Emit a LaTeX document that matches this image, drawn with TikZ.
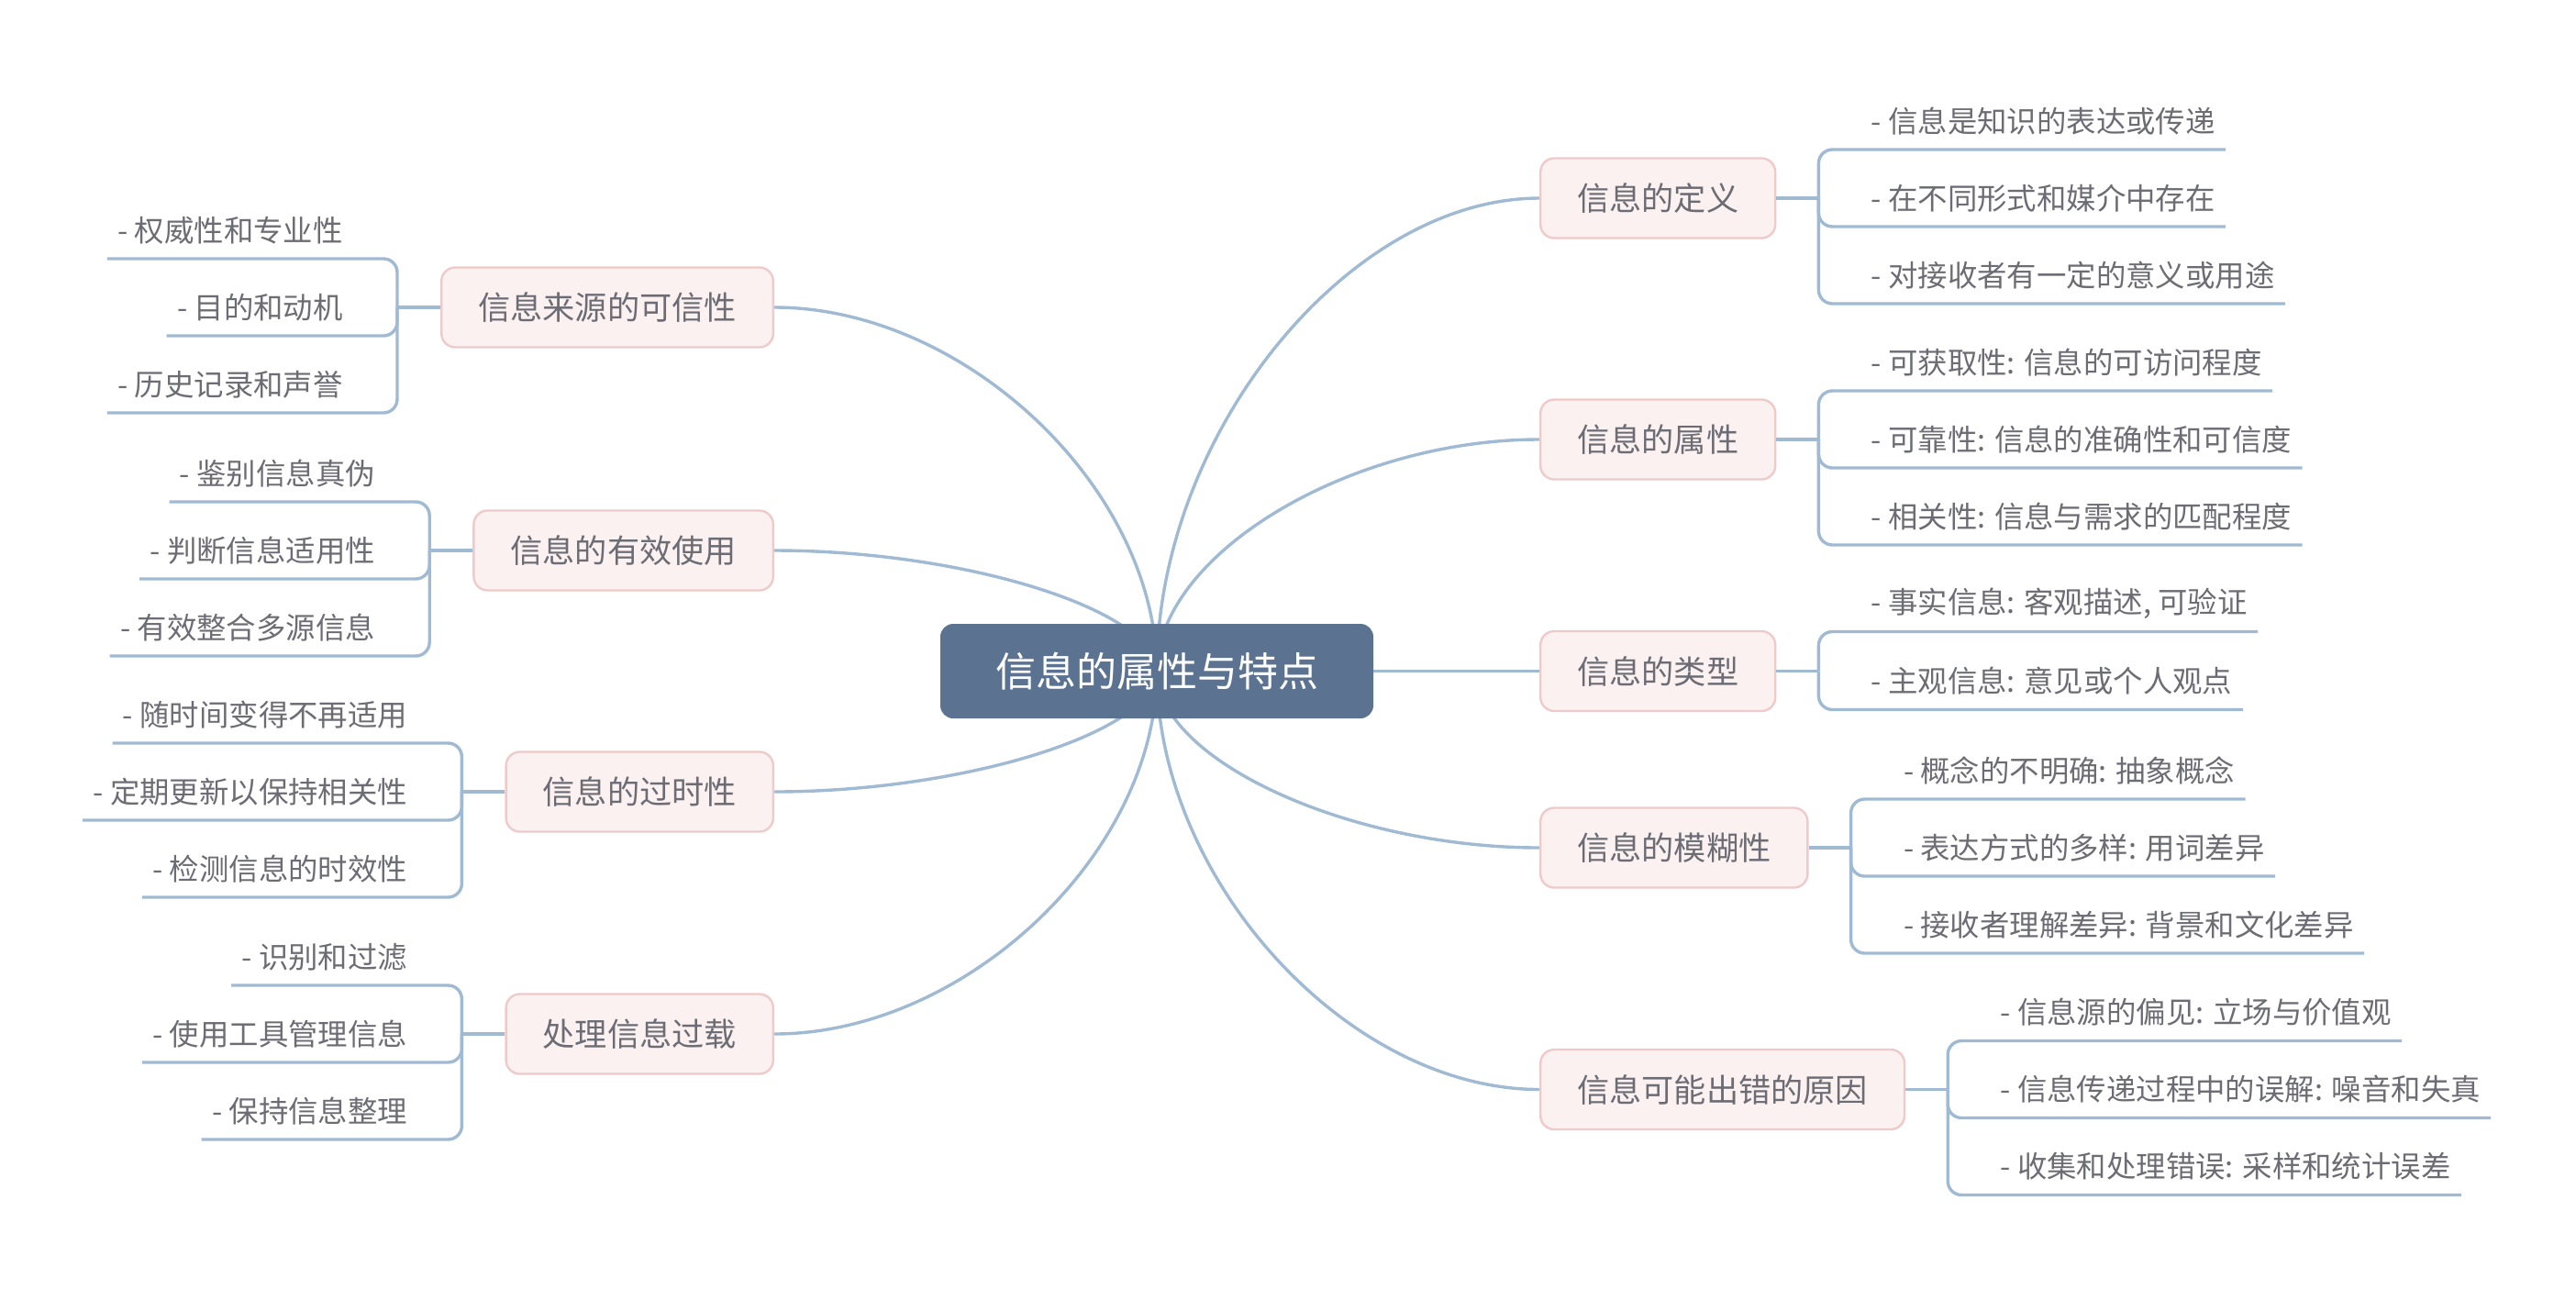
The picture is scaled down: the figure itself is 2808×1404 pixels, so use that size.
\documentclass[tikz,border=0pt]{standalone}
\usepackage{fontspec}
\newfontfamily\cjk{Noto Sans CJK SC}
\usetikzlibrary{calc,backgrounds}
\definecolor{rootfill}{HTML}{5B7391}
\definecolor{lineblue}{HTML}{A0BAD3}
\definecolor{pinkfill}{HTML}{FCF1F1}
\definecolor{pinkdraw}{HTML}{EFCACA}
\definecolor{txtgray}{HTML}{6C6C75}
\begin{document}
\begin{tikzpicture}[x=0.5pt,y=-0.5pt,
  rootbox/.style={rectangle, rounded corners=7pt, fill=rootfill, text=white,
    font=\cjk\fontsize{22pt}{26pt}\selectfont, minimum width=236pt, minimum height=51.5pt, inner sep=0pt},
  branchbox/.style={rectangle, rounded corners=7.5pt, fill=pinkfill, draw=pinkdraw, line width=1.2pt,
    text=txtgray, font=\cjk\fontsize{17.6pt}{21pt}\selectfont, minimum height=43.5pt, inner xsep=20pt, inner ysep=0pt},
  leaftext/.style={text=txtgray, font=\cjk\fontsize{16.2pt}{20pt}\selectfont, inner sep=0pt},
  conn/.style={draw=lineblue, line width=1.7pt},
  bracket/.style={conn, rounded corners=7.5pt}]
\useasboundingbox (0,0) rectangle (2808,1404);

% root
\node[rootbox] (R) at (1261,731.5) {信息的属性与特点};

% right branches
\node[branchbox, anchor=west] (D) at (1678,216) {信息的定义};
\node[branchbox, anchor=west] (P) at (1678,479) {信息的属性};
\node[branchbox, anchor=west] (T) at (1678,731.5) {信息的类型};
\node[branchbox, anchor=west] (M) at (1678,924) {信息的模糊性};
\node[branchbox, anchor=west] (E) at (1678,1187.5) {信息可能出错的原因};

% left branches
\node[branchbox, anchor=east] (C) at (844,335) {信息来源的可信性};
\node[branchbox, anchor=east] (U) at (844,600) {信息的有效使用};
\node[branchbox, anchor=east] (O) at (844,863) {信息的过时性};
\node[branchbox, anchor=east] (L) at (844,1127) {处理信息过载};

% bracket junctions
\coordinate (bD) at ($(D.east)+(46,0)$);
\coordinate (bP) at ($(P.east)+(46,0)$);
\coordinate (bT) at ($(T.east)+(46,0)$);
\coordinate (bM) at ($(M.east)+(46,0)$);
\coordinate (bE) at ($(E.east)+(46,0)$);
\coordinate (bC) at ($(C.west)+(-47,0)$);
\coordinate (bU) at ($(U.west)+(-47,0)$);
\coordinate (bO) at ($(O.west)+(-47,0)$);
\coordinate (bL) at ($(L.west)+(-47,0)$);

% right leaves
\node[leaftext, anchor=west] (D1) at ($(bD)+(57,-84)$) {- 信息是知识的表达或传递};
\node[leaftext, anchor=west] (D2) at ($(bD)+(57,0)$) {- 在不同形式和媒介中存在};
\node[leaftext, anchor=west] (D3) at ($(bD)+(57,84)$) {- 对接收者有一定的意义或用途};

\node[leaftext, anchor=west] (P1) at ($(bP)+(57,-84)$) {- 可获取性: 信息的可访问程度};
\node[leaftext, anchor=west] (P2) at ($(bP)+(57,0)$) {- 可靠性: 信息的准确性和可信度};
\node[leaftext, anchor=west] (P3) at ($(bP)+(57,84)$) {- 相关性: 信息与需求的匹配程度};

\node[leaftext, anchor=west] (T1) at ($(bT)+(57,-74)$) {- 事实信息: 客观描述, 可验证};
\node[leaftext, anchor=west] (T2) at ($(bT)+(57,11)$) {- 主观信息: 意见或个人观点};

\node[leaftext, anchor=west] (M1) at ($(bM)+(57,-84)$) {- 概念的不明确: 抽象概念};
\node[leaftext, anchor=west] (M2) at ($(bM)+(57,0)$) {- 表达方式的多样: 用词差异};
\node[leaftext, anchor=west] (M3) at ($(bM)+(57,84)$) {- 接收者理解差异: 背景和文化差异};

\node[leaftext, anchor=west] (E1) at ($(bE)+(57,-84)$) {- 信息源的偏见: 立场与价值观};
\node[leaftext, anchor=west] (E2) at ($(bE)+(57,0)$) {- 信息传递过程中的误解: 噪音和失真};
\node[leaftext, anchor=west] (E3) at ($(bE)+(57,84)$) {- 收集和处理错误: 采样和统计误差};

% left leaves
\node[leaftext, anchor=east] (C1) at ($(bC)+(-59,-84)$) {- 权威性和专业性};
\node[leaftext, anchor=east] (C2) at ($(bC)+(-59,0)$) {- 目的和动机};
\node[leaftext, anchor=east] (C3) at ($(bC)+(-59,84)$) {- 历史记录和声誉};

\node[leaftext, anchor=east] (U1) at ($(bU)+(-59,-84)$) {- 鉴别信息真伪};
\node[leaftext, anchor=east] (U2) at ($(bU)+(-59,0)$) {- 判断信息适用性};
\node[leaftext, anchor=east] (U3) at ($(bU)+(-59,84)$) {- 有效整合多源信息};

\node[leaftext, anchor=east] (O1) at ($(bO)+(-59,-84)$) {- 随时间变得不再适用};
\node[leaftext, anchor=east] (O2) at ($(bO)+(-59,0)$) {- 定期更新以保持相关性};
\node[leaftext, anchor=east] (O3) at ($(bO)+(-59,84)$) {- 检测信息的时效性};

\node[leaftext, anchor=east] (L1) at ($(bL)+(-59,-84)$) {- 识别和过滤};
\node[leaftext, anchor=east] (L2) at ($(bL)+(-59,0)$) {- 使用工具管理信息};
\node[leaftext, anchor=east] (L3) at ($(bL)+(-59,84)$) {- 保持信息整理};

% branch to bracket and brackets
\foreach \b/\ls in {D/{D1,D2,D3}, P/{P1,P2,P3}, T/{T1,T2}, M/{M1,M2,M3}, E/{E1,E2,E3}} {
  \draw[conn] (\b.east) -- (b\b);
  \foreach \n in \ls { \draw[bracket] (b\b) |- ($(\n.east)+(11,31)$); }
}
\foreach \b/\ls in {C/{C1,C2,C3}, U/{U1,U2,U3}, O/{O1,O2,O3}, L/{L1,L2,L3}} {
  \draw[conn] (\b.west) -- (b\b);
  \foreach \n in \ls { \draw[bracket] (b\b) |- ($(\n.west)+(-11,31)$); }
}

% main curves
\begin{scope}[on background layer]
\foreach \b in {D,P,T,M,E} {
  \coordinate (k\b) at (R.center |- \b.west);
  \draw[conn] (R.center) .. controls ($(R.center)!0.5!(k\b)$) and ($(\b.west)!0.5!(k\b)$) .. (\b.west);
}
\foreach \b in {C,U,O,L} {
  \coordinate (k\b) at (R.center |- \b.east);
  \draw[conn] (R.center) .. controls ($(R.center)!0.5!(k\b)$) and ($(\b.east)!0.5!(k\b)$) .. (\b.east);
}
\end{scope}
\end{tikzpicture}
\end{document}
